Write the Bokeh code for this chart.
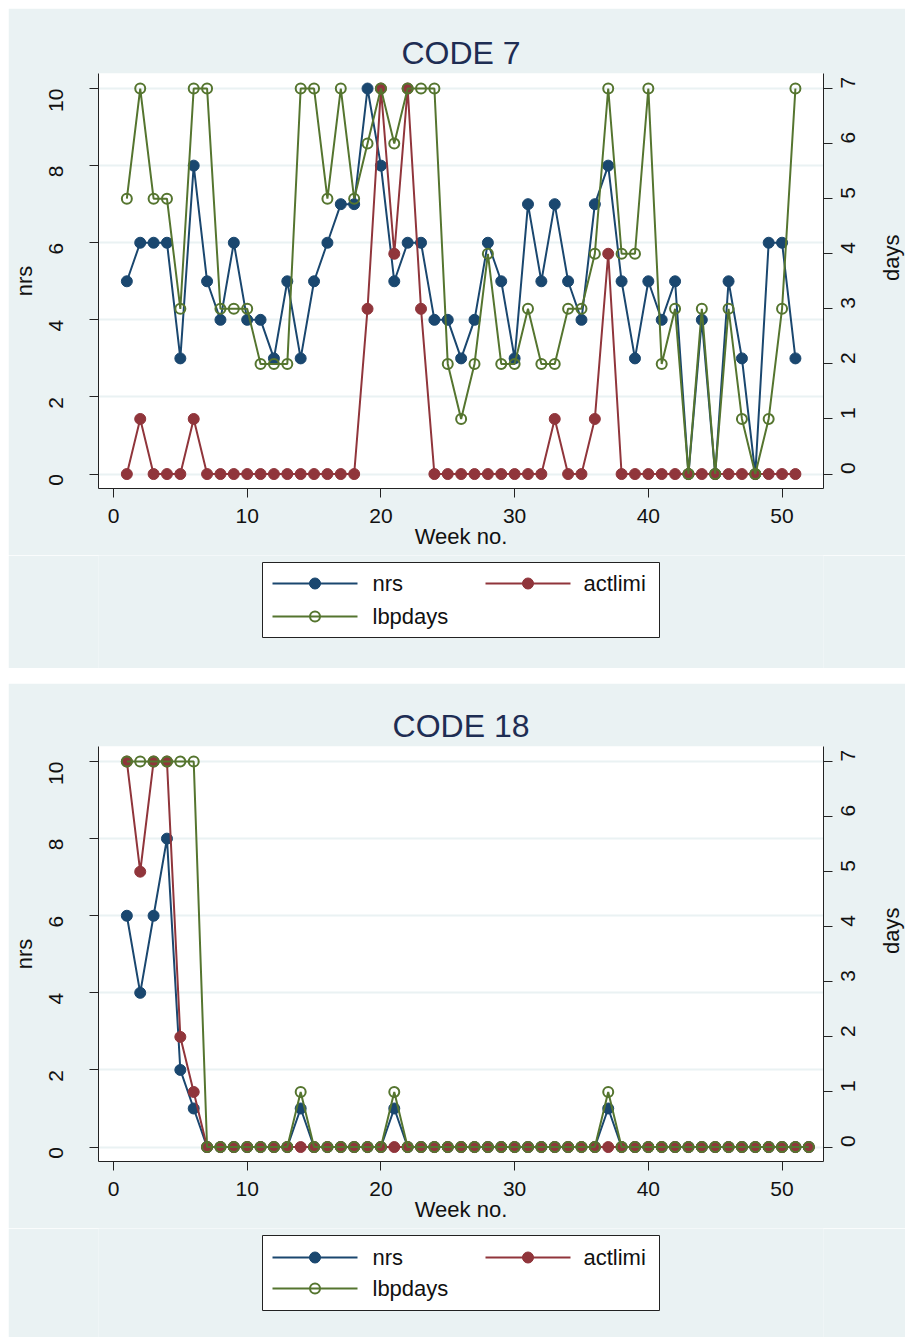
import math
from bokeh.plotting import figure
from bokeh.models import Range1d, LinearAxis, Spacer, FixedTicker
from bokeh.core.properties import value
from bokeh.layouts import column
from bokeh.embed import file_html
from bokeh.resources import INLINE

# ---------------- data ----------------
weeks_c7 = [1, 2, 3, 4, 5, 6, 7, 8, 9, 10, 11, 12, 13, 14, 15, 16, 17, 18, 19, 20,
            21, 22, 23, 24, 25, 26, 27, 28, 29, 30, 31, 32, 33, 34, 35, 36, 37, 38,
            39, 40, 41, 42, 43, 44, 45, 46, 47, 48, 49, 50, 51]
nrs_c7 = [5, 6, 6, 6, 3, 8, 5, 4, 6, 4, 4, 3, 5, 3, 5, 6, 7, 7, 10, 8,
          5, 6, 6, 4, 4, 3, 4, 6, 5, 3, 7, 5, 7, 5, 4, 7, 8, 5,
          3, 5, 4, 5, 0, 4, 0, 5, 3, 0, 6, 6, 3]
actlimi_c7 = [0, 1, 0, 0, 0, 1, 0, 0, 0, 0, 0, 0, 0, 0, 0, 0, 0, 0, 3, 7,
              4, 7, 3, 0, 0, 0, 0, 0, 0, 0, 0, 0, 1, 0, 0, 1, 4, 0,
              0, 0, 0, 0, 0, 0, 0, 0, 0, 0, 0, 0, 0]
lbpdays_c7 = [5, 7, 5, 5, 3, 7, 7, 3, 3, 3, 2, 2, 2, 7, 7, 5, 7, 5, 6, 7,
              6, 7, 7, 7, 2, 1, 2, 4, 2, 2, 3, 2, 2, 3, 3, 4, 7, 4,
              4, 7, 2, 3, 0, 3, 0, 3, 1, 0, 1, 3, 7]

weeks_c18 = [1, 2, 3, 4, 5, 6, 7, 8, 9, 10, 11, 12, 13, 14, 15, 16, 17, 18, 19, 20,
             21, 22, 23, 24, 25, 26, 27, 28, 29, 30, 31, 32, 33, 34, 35, 36, 37, 38,
             39, 40, 41, 42, 43, 44, 45, 46, 47, 48, 49, 50, 51, 52]
nrs_c18 = [6, 4, 6, 8, 2, 1, 0, 0, 0, 0, 0, 0, 0, 1, 0, 0, 0, 0, 0, 0,
           1, 0, 0, 0, 0, 0, 0, 0, 0, 0, 0, 0, 0, 0, 0, 0, 1, 0,
           0, 0, 0, 0, 0, 0, 0, 0, 0, 0, 0, 0, 0, 0]
actlimi_c18 = [7, 5, 7, 7, 2, 1, 0, 0, 0, 0, 0, 0, 0, 0, 0, 0, 0, 0, 0, 0,
               0, 0, 0, 0, 0, 0, 0, 0, 0, 0, 0, 0, 0, 0, 0, 0, 0, 0,
               0, 0, 0, 0, 0, 0, 0, 0, 0, 0, 0, 0, 0, 0]
lbpdays_c18 = [7, 7, 7, 7, 7, 7, 0, 0, 0, 0, 0, 0, 0, 1, 0, 0, 0, 0, 0, 0,
               1, 0, 0, 0, 0, 0, 0, 0, 0, 0, 0, 0, 0, 0, 0, 0, 1, 0,
               0, 0, 0, 0, 0, 0, 0, 0, 0, 0, 0, 0, 0, 0]

x_ticks = [0, 10, 20, 30, 40, 50]
nrs_ticks = [0, 2, 4, 6, 8, 10]
days_ticks = [0, 1, 2, 3, 4, 5, 6, 7]
series_labels = ["nrs", "actlimi", "lbpdays"]

# ---------------- style ----------------
NAVY = "#1A476F"
MAROON = "#90353B"
GREEN = "#55752F"
BG = "#EAF2F3"
TITLE_C = "#1E2D53"
FONT = "Liberation Sans"
FRAME_W = 725
BORDER_L = 90
BORDER_R = 82


def style_axis(ax, vertical):
    ax.axis_line_color = "#222222"
    ax.axis_line_width = 1
    ax.major_tick_line_color = "#222222"
    ax.major_tick_out = 9
    ax.major_tick_in = 0
    ax.minor_tick_line_color = None
    ax.major_label_text_font = FONT
    ax.major_label_text_font_size = "21px"
    ax.major_label_text_color = "#111111"
    ax.axis_label_text_font = FONT
    ax.axis_label_text_font_size = "22px"
    ax.axis_label_text_font_style = "normal"
    ax.axis_label_text_color = "#111111"
    if vertical:
        ax.major_label_orientation = math.pi / 2


def make_legend_strip(height, box_bottom, box_top, row1, row2):
    """Legend drawn on its own canvas; its x range is the canvas pixel column."""
    lf = figure(frame_width=FRAME_W, frame_height=height,
                min_border_left=BORDER_L, min_border_right=BORDER_R,
                min_border_top=0, min_border_bottom=0,
                x_range=Range1d(BORDER_L, BORDER_L + FRAME_W),
                y_range=Range1d(0, height),
                x_axis_type=None, y_axis_type=None, title=None,
                output_backend="svg", toolbar_location=None)
    lf.background_fill_color = BG
    lf.border_fill_color = BG
    lf.outline_line_color = None
    lf.quad(left=[254], right=[651], bottom=[box_bottom], top=[box_top],
            fill_color="white", line_color="#222222", line_width=1)
    keys = [  # (colour, filled, key-left, row, text-left, label index)
        (NAVY, True, 264, row1, 364, 0),
        (MAROON, True, 477, row1, 575, 1),
        (GREEN, False, 264, row2, 364, 2),
    ]
    for col, filled, kx, ky, tx, idx in keys:
        lf.segment(x0=[kx], y0=[ky], x1=[kx + 85], y1=[ky], line_color=col,
                   line_width=2)
        if filled:
            lf.scatter([kx + 42.5], [ky], size=11, fill_color=col, line_color=col)
        else:
            lf.scatter([kx + 42.5], [ky], size=10, fill_color=None, line_color=col,
                       line_width=2)
        lf.text([tx], [ky], text=[series_labels[idx]], text_baseline="middle",
                text_align="left", text_font=value(FONT), text_font_size="22px",
                text_color="#111111")
    return lf


def make_panel(title, weeks, nrs, act, lbp, border_top, legend_args):
    y0, y1 = -0.375, 10.39
    p = figure(frame_width=FRAME_W, frame_height=415,
               min_border_left=BORDER_L, min_border_right=BORDER_R,
               min_border_top=border_top, min_border_bottom=67,
               x_range=Range1d(-1.12, 53.1), y_range=Range1d(y0, y1),
               output_backend="svg", toolbar_location=None)
    p.extra_y_ranges = {"days": Range1d(y0 * 0.7, y1 * 0.7)}
    p.background_fill_color = "white"
    p.border_fill_color = BG
    p.outline_line_color = None

    p.title.text = title
    p.title.align = "center"
    p.title.text_font = FONT
    p.title.text_font_size = "32px"
    p.title.text_font_style = "normal"
    p.title.text_color = TITLE_C
    p.title.standoff = 5

    p.xaxis.ticker = FixedTicker(ticks=x_ticks)
    p.xaxis.axis_label = "Week no."
    style_axis(p.xaxis[0], False)
    p.xaxis.major_label_standoff = 11
    p.xaxis.axis_label_standoff = -2

    p.yaxis.ticker = FixedTicker(ticks=nrs_ticks)
    p.yaxis.axis_label = "nrs"
    style_axis(p.yaxis[0], True)
    p.yaxis.major_label_standoff = 33
    p.yaxis.axis_label_standoff = 3

    rax = LinearAxis(y_range_name="days", ticker=FixedTicker(ticks=days_ticks),
                     axis_label="days")
    style_axis(rax, True)
    rax.major_label_standoff = 16
    rax.axis_label_standoff = 26
    try:
        rax.axis_label_orientation = math.pi / 2
    except Exception:
        pass
    p.add_layout(rax, "right")

    p.xgrid.visible = False
    p.ygrid.grid_line_color = BG
    p.ygrid.grid_line_width = 2

    p.line(weeks, nrs, line_color=NAVY, line_width=2)
    p.scatter(weeks, nrs, size=11, fill_color=NAVY, line_color=NAVY)
    p.line(weeks, act, line_color=MAROON, line_width=2, y_range_name="days")
    p.scatter(weeks, act, size=11, fill_color=MAROON, line_color=MAROON,
              y_range_name="days")
    p.line(weeks, lbp, line_color=GREEN, line_width=2, y_range_name="days")
    p.scatter(weeks, lbp, size=10, fill_color=None, line_color=GREEN,
              line_width=2, y_range_name="days")

    lf = make_legend_strip(*legend_args)
    return column(p, lf, spacing=0)


panel1 = make_panel("CODE 7", weeks_c7, nrs_c7, actlimi_c7, lbpdays_c7, 65,
                    (113, 31, 106, 85, 52))
panel2 = make_panel("CODE 18", weeks_c18, nrs_c18, actlimi_c18, lbpdays_c18, 63,
                    (109, 27, 102, 80, 49))

layout = column(panel1, Spacer(height=15), panel2, margin=(8, 0, 0, 8), spacing=0)
open("out.html", "w").write(file_html(layout, INLINE))
